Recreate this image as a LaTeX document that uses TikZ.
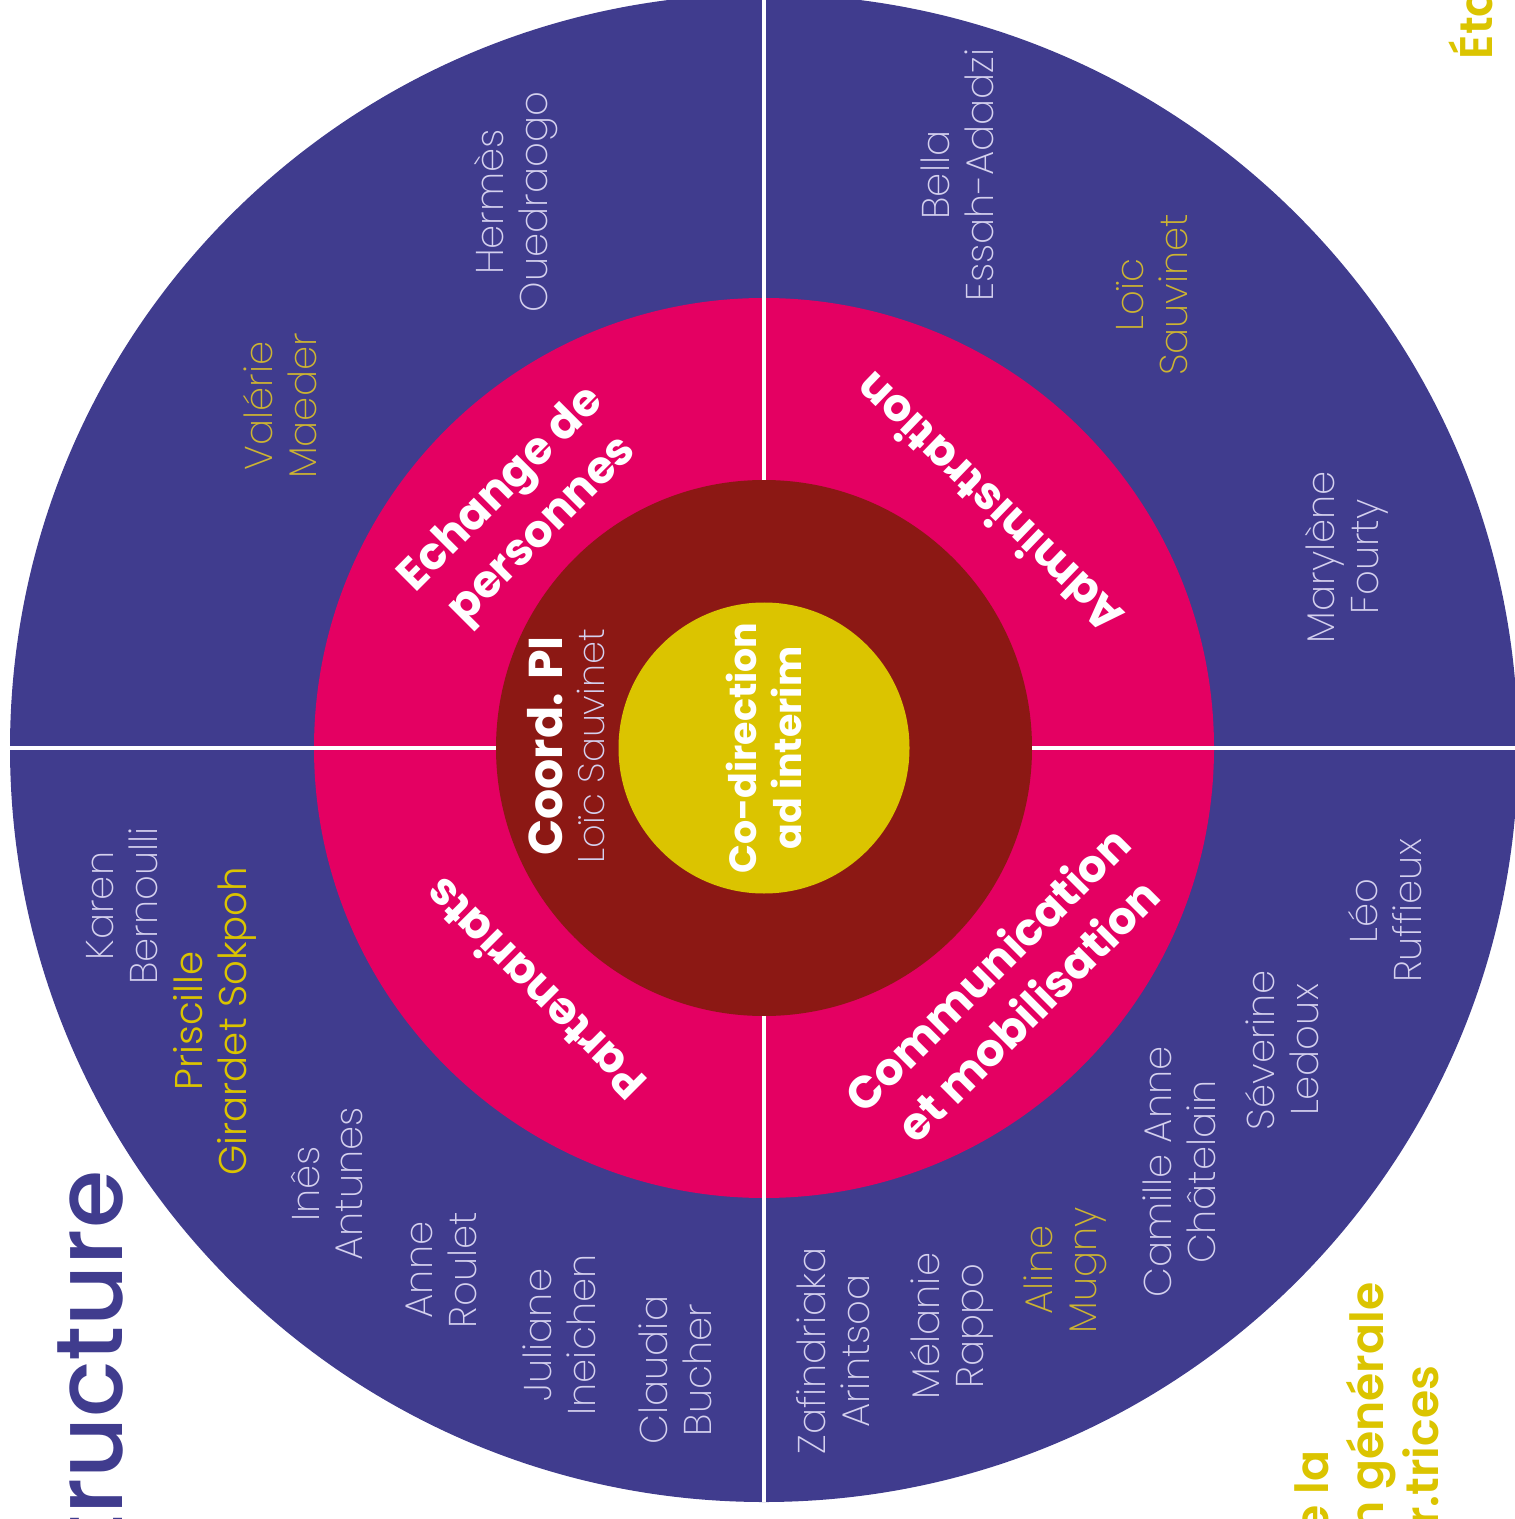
\documentclass[tikz,border=0pt]{standalone}
\usepackage{fontspec}
\setmainfont{Poppins}
\newfontfamily\thinfont{Poppins ExtraLight}
\newfontfamily\medfont{Poppins Medium}
\newfontfamily\semifont{Poppins SemiBold}
\definecolor{indigo}{RGB}{64,60,142}
\definecolor{rosered}{RGB}{228,0,98}
\definecolor{wine}{RGB}{140,24,20}
\definecolor{mustard}{RGB}{219,196,0}
\definecolor{namegrey}{RGB}{212,208,238}
\definecolor{namegold}{RGB}{205,180,50}

\begin{document}
\begin{tikzpicture}[ring_node/.style={circle, inner sep=0pt, outer sep=0pt},
  name_node/.style={rotate=90, align=center, text=namegrey, font=\thinfont\fontsize{11}{12.5}\selectfont},
  gold_node/.style={name_node, text=namegold},
  head_node/.style={align=center, text=white, font=\bfseries\fontsize{12.8}{16.5}\selectfont},
  side_node/.style={rotate=90, inner sep=0pt, text=mustard, font=\semifont\fontsize{13}{15}\selectfont},
  sep_line/.style={draw=white, line width=0.9pt}]
	\useasboundingbox (0,0) rectangle (15.14,-15.19);

	\node[ring_node, fill=indigo, minimum size=15.08cm] (outer) at (7.64,-7.48) {};
	\node[ring_node, fill=rosered, minimum size=9cm] (ring) at (outer) {};
	\node[ring_node, fill=wine, minimum size=5.36cm] (core) at (outer) {};
	\node[ring_node, fill=mustard, minimum size=2.91cm, rotate=90, align=center, text=white,
	      font=\bfseries\fontsize{10.8}{13}\selectfont] (codir) at (outer) {Co-direction\\ad interim};

	\draw[sep_line] (outer.north) -- (core.north);
	\draw[sep_line] (outer.south) -- (core.south);
	\draw[sep_line] (outer.west) -- (core.west);
	\draw[sep_line] (outer.east) -- (core.east);

	\node[rotate=90, align=center, text=white] (coord) at (5.66,-7.46)
	     {{\bfseries\fontsize{13.5}{12.2}\selectfont Coord. PI}\\{\thinfont\color{namegrey}\fontsize{10.5}{12.2}\selectfont Loïc Sauvinet}};

	\node[head_node, rotate=45] (echange) at (5.23,-5.11) {Echange de\\personnes};
	\node[head_node, rotate=136] (admin) at (9.88,-5.04) {Administration};
	\node[head_node, rotate=135] (parten) at (5.34,-9.90) {Partenariats};
	\node[head_node, rotate=45] (commu) at (10.07,-9.89) {Communication\\et mobilisation};

	\node[gold_node] (maeder) at (2.80,-4.06) {Valérie\\Maeder};
	\node[name_node] (ouedraogo) at (5.16,-2.02) {Hermès\\Ouedraogo};
	\node[name_node] (adadzi) at (9.57,-1.75) {Bella\\Essah-Adadzi};
	\node[gold_node] (sauvinet) at (11.52,-2.95) {Loïc\\Sauvinet};
	\node[name_node] (fourty) at (13.47,-5.57) {Marylène\\Fourty};

	\node[name_node] (bernoulli) at (1.22,-9.06) {Karen\\Bernoulli};
	\node[name_node, text=mustard, font=\fontspec{Poppins Light}\fontsize{11}{12.5}\selectfont] (sokpoh) at (2.15,-10.21) {Priscille\\Girardet Sokpoh};
	\node[name_node] (antunes) at (3.27,-11.84) {Inês\\Antunes};
	\node[name_node] (roulet) at (4.41,-12.70) {Anne\\Roulet};
	\node[name_node] (ineichen) at (5.59,-13.35) {Juliane\\Ineichen};
	\node[name_node] (bucher) at (6.75,-13.70) {Claudia\\Bucher};

	\node[name_node] (arintsoa) at (8.33,-13.51) {Zafindriaka\\Arintsoa};
	\node[name_node] (rappo) at (9.52,-13.26) {Mélanie\\Rappo};
	\node[gold_node] (mugny) at (10.65,-12.70) {Aline\\Mugny};
	\node[name_node] (chatelain) at (11.79,-11.72) {Camille Anne\\Châtelain};
	\node[name_node] (ledoux) at (12.82,-10.50) {Séverine\\Ledoux};
	\node[name_node] (ruffieux) at (13.85,-9.11) {Léo\\Ruffieux};

	\node[rotate=90, inner sep=0pt, anchor=base east, text=indigo, font=\medfont\fontsize{26.8}{32}\selectfont] (title) at (1.22,-11.70) {Structure};
	\node[side_node, anchor=base west] (etat) at (14.92,-0.60) {Éta};
	\node[side_node, anchor=base east] (delaline) at (13.28,-14.50) {e la};
	\node[side_node, anchor=base east] (generale) at (13.83,-12.82) {n générale};
	\node[side_node, anchor=base east] (trices) at (14.38,-13.65) {r.trices};
\end{tikzpicture}
\end{document}
